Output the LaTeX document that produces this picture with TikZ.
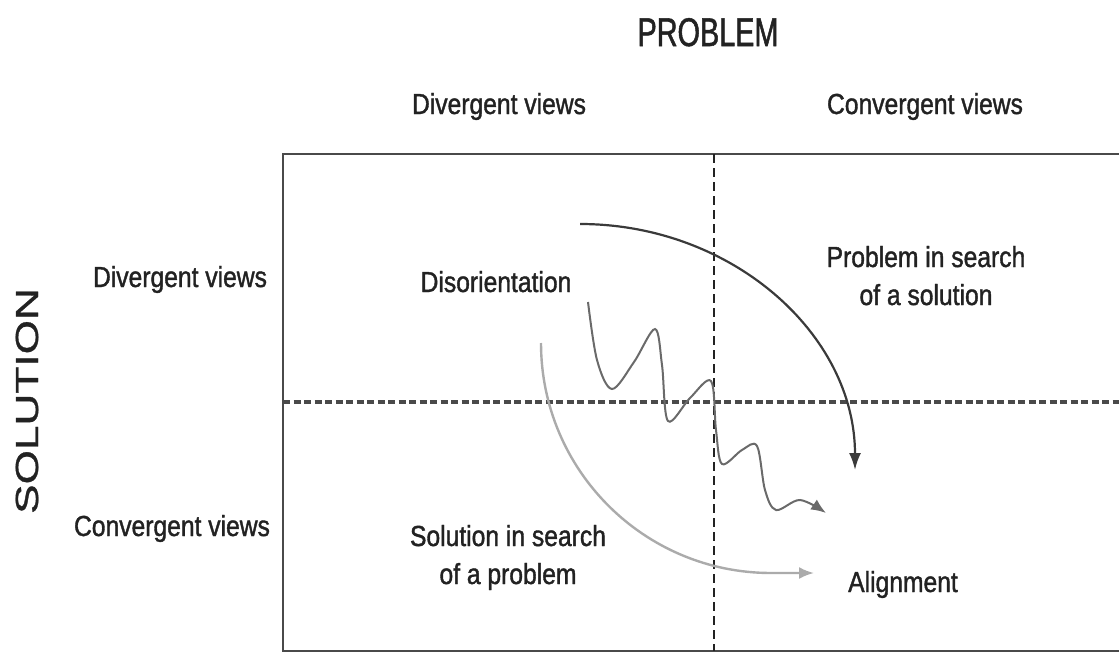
\documentclass[tikz,border=0pt]{standalone}
\usepackage{fontspec}
\setmainfont{Liberation Sans}
\newfontfamily\narrowfont[FakeStretch=0.85,FakeBold=1.3]{Liberation Sans}
\newfontfamily\titlefont[FakeStretch=0.72,FakeBold=1.3]{Liberation Sans}
\newfontfamily\widefont[FakeStretch=1.38,FakeBold=1]{Liberation Sans}
\usetikzlibrary{arrows.meta}

\definecolor{ink}{HTML}{222222}
\definecolor{framegray}{HTML}{4A4A4A}
\definecolor{darkpath}{HTML}{3A3A3A}
\definecolor{midpath}{HTML}{6A6A6A}
\definecolor{lightpath}{HTML}{ABABAB}

\begin{document}
\begin{tikzpicture}[x=1pt,y=-1pt,
  lbl/.style={font=\narrowfont\fontsize{29}{38}\selectfont, text=ink,
              inner sep=0pt, anchor=base, align=center},
  frame/.style={draw=framegray, line width=2.5pt},
  splitv/.style={draw=ink, line width=2pt, dash pattern=on 9pt off 5pt},
  splith/.style={draw=framegray, line width=4.5pt, dash pattern=on 7pt off 3.5pt},
  darkarrow/.style={draw=darkpath, line width=2.2pt,
                    -{Latex[length=17pt,width=12pt]}},
  lightarrow/.style={draw=lightpath, line width=2.4pt,
                     -{Latex[length=15pt,width=12pt]}},
  wavearrow/.style={draw=midpath, line width=2pt,
                    -{Latex[length=15pt,width=12pt]}}
]
\useasboundingbox (0,0) rectangle (1119,653);

% axis titles
\node[lbl, font=\titlefont\fontsize{40}{40}\selectfont] (problem) at (708,46) {PROBLEM};
\node[font=\widefont\fontsize{32}{32}\selectfont, text=ink, rotate=90,
      inner sep=0pt] (solution) at (27,401) {SOLUTION};

% column and row headings
\node[lbl] (pdiv) at (499,114) {Divergent views};
\node[lbl] (pconv) at (925,114) {Convergent views};
\node[lbl] (sdiv) at (180,287) {Divergent views};
\node[lbl] (sconv) at (172,536) {Convergent views};

% the matrix frame and its dividing lines
\draw[frame] (283,154) rectangle (1136,651);
\coordinate (vtop) at (714,154);
\coordinate (vbot) at (714,651);
\coordinate (hleft) at (283,402);
\coordinate (hright) at (1125,402);
\draw[splitv] (vtop) -- (vbot);
\draw[splith] (hleft) -- (hright);

% quadrant labels (a two-line node sits on the baseline of its last line)
\node[lbl] (disor) at (496,292) {Disorientation};
\node[lbl] (probsearch) at (926,305) {Problem in search\\of a solution};
\node[lbl] (solsearch) at (508,584) {Solution in search\\of a problem};
\node[lbl] (align) at (903,592) {Alignment};

% path from disorientation towards alignment via the problem
\coordinate (darkstart) at (580,224);
\draw[darkarrow] (darkstart) arc[start angle=270, end angle=360,
                                 x radius=275, y radius=246];

% path via the solution
\coordinate (lightstart) at (541,343);
\coordinate (lightend) at (814,573);
\draw[lightarrow] (lightstart) arc[start angle=180, end angle=90, radius=230]
                  -- (lightend);

% wandering path straight through the middle
\coordinate (wavestart) at (588,302);
\coordinate (waveend) at (826,513);
\draw[wavearrow] plot[smooth, tension=0.55] coordinates {
  (wavestart) (597,360) (612,389) (634,362) (655,329) (662,365)
  (668,421) (690,398) (711,381) (716,430) (722,464) (742,450)
  (757,446) (765,490) (776,510) (800,500) (waveend)};
\end{tikzpicture}
\end{document}
